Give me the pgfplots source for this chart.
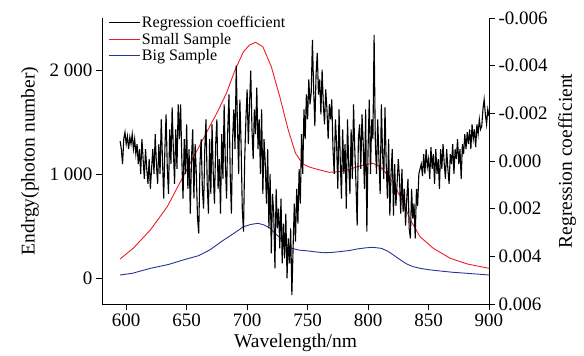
\documentclass[border=0pt]{standalone}
\usepackage{fontspec}
\setmainfont{Liberation Serif}
\usepackage{pgfplots}
\usepackage{pgfplotstable}
\pgfplotsset{compat=1.18}
\definecolor{myred}{RGB}{236,30,36}
\definecolor{myblue}{RGB}{40,52,150}

\pgfplotstableread{
x y
595 183
606 288
620 462
634 686
647 974
661 1279
675 1587
683 1779
690 2000
697 2176
702 2240
707 2266
713 2224
720 2032
727 1744
734 1423
740 1200
746 1096
752 1065
758 1045
768 1016
778 1025
785 1045
791 1070
798 1090
804 1103
810 1070
815 1006
821 910
828 750
835 558
843 397
854 285
868 189
882 135
900 93
}\smalltab

\pgfplotstableread{
x y
595 29
605 45
620 93
635 130
647 173
660 215
669 269
680 360
689 429
697 493
703 515
709 526
714 510
719 478
724 420
729 365
733 320
737 285
743 268
749 262
756 252
763 243
770 246
778 255
785 265
791 279
798 290
804 295
811 285
816 260
821 221
826 180
832 135
837 110
843 93
850 80
860 67
870 55
882 45
900 29
}\bigtab

\pgfplotstableread{
x y
595 -0.83e-3
596 -0.50e-3
597 0.13e-3
598 -0.92e-3
599 -1.21e-3
600 -0.71e-3
601 -1.04e-3
602 -0.50e-3
603 -1.00e-3
604 -0.71e-3
605 -1.13e-3
606 -0.50e-3
607 -0.92e-3
608 -0.29e-3
609 -0.71e-3
610 0.13e-3
611 -0.50e-3
612 0.54e-3
613 -0.92e-3
614 -0.08e-3
615 0.75e-3
616 -0.50e-3
617 0.33e-3
618 0.96e-3
619 -0.08e-3
620 1.17e-3
621 0.33e-3
622 -0.50e-3
623 0.54e-3
624 -1.13e-3
625 0.13e-3
626 0.96e-3
627 -0.71e-3
628 0.54e-3
629 -1.75e-3
630 -0.08e-3
631 1.58e-3
632 -0.50e-3
633 -1.96e-3
634 0.33e-3
635 1.38e-3
636 -1.33e-3
637 0.13e-3
638 -2.25e-3
639 -0.50e-3
640 0.96e-3
641 -1.33e-3
642 0.33e-3
643 -2.38e-3
644 -0.92e-3
645 -2.38e-3
646 -0.08e-3
647 1.58e-3
648 -0.92e-3
649 0.54e-3
650 -1.54e-3
651 1.17e-3
652 -0.50e-3
653 2.21e-3
654 -0.08e-3
655 -1.33e-3
656 1.58e-3
657 -0.71e-3
658 0.54e-3
659 2.42e-3
660 3.04e-3
661 0.13e-3
662 -0.92e-3
663 1.17e-3
664 2.00e-3
665 -0.50e-3
666 -1.75e-3
667 0.96e-3
668 2.21e-3
669 -0.92e-3
670 1.38e-3
671 -1.54e-3
672 0.54e-3
673 1.79e-3
674 -0.71e-3
675 -1.75e-3
676 1.17e-3
677 -0.08e-3
678 2.21e-3
679 -1.13e-3
680 0.75e-3
681 -2.38e-3
682 0.13e-3
683 1.58e-3
684 -1.33e-3
685 -2.79e-3
686 0.54e-3
687 2.21e-3
688 -0.92e-3
689 -2.17e-3
690 -0.50e-3
691 -4.00e-3
692 -1.54e-3
693 0.54e-3
694 -2.58e-3
695 -0.71e-3
696 2.00e-3
697 2.96e-3
698 -0.08e-3
699 -1.75e-3
700 -3.00e-3
701 -0.71e-3
702 -2.38e-3
703 -3.79e-3
704 -1.33e-3
705 -0.08e-3
706 -2.17e-3
707 -1.13e-3
708 -3.08e-3
709 -0.50e-3
710 -1.75e-3
711 0.54e-3
712 -2.17e-3
713 1.38e-3
714 -0.92e-3
715 0.13e-3
716 1.79e-3
717 -0.50e-3
718 2.83e-3
719 0.54e-3
720 3.88e-3
721 1.38e-3
722 2.21e-3
723 4.50e-3
724 1.17e-3
725 2.83e-3
726 2.00e-3
727 3.67e-3
728 1.58e-3
729 4.29e-3
730 2.63e-3
731 4.08e-3
732 2.21e-3
733 4.92e-3
734 3.25e-3
735 4.29e-3
736 2.83e-3
737 5.63e-3
738 3.67e-3
739 1.79e-3
740 3.38e-3
741 1.17e-3
742 2.63e-3
743 0.33e-3
744 1.79e-3
745 -1.13e-3
746 0.54e-3
747 -2.17e-3
748 -0.92e-3
749 -2.79e-3
750 -1.75e-3
751 -3.42e-3
752 -2.38e-3
753 -2.88e-3
754 -5.08e-3
755 -3.00e-3
756 -1.46e-3
757 -3.63e-3
758 -4.54e-3
759 -2.79e-3
760 -3.42e-3
761 -1.96e-3
762 -3.83e-3
763 -2.38e-3
764 -1.54e-3
765 -3.00e-3
766 -2.17e-3
767 -0.92e-3
768 -2.38e-3
769 -1.75e-3
770 -2.58e-3
771 -0.50e-3
772 0.54e-3
773 -1.75e-3
774 -0.71e-3
775 1.17e-3
776 -2.17e-3
777 -0.08e-3
778 1.58e-3
779 -1.33e-3
780 0.54e-3
781 -0.71e-3
782 2.00e-3
783 -1.75e-3
784 0.13e-3
785 1.38e-3
786 -1.33e-3
787 0.75e-3
788 -2.38e-3
789 -0.50e-3
790 0.96e-3
791 2.71e-3
792 -0.92e-3
793 -1.54e-3
794 0.33e-3
795 -1.96e-3
796 -0.71e-3
797 1.17e-3
798 -2.17e-3
799 2.96e-3
800 -0.50e-3
801 -2.58e-3
802 0.54e-3
803 -1.75e-3
804 -0.92e-3
805 -5.29e-3
806 -0.79e-3
807 0.54e-3
808 -1.75e-3
809 -0.08e-3
810 1.38e-3
811 -2.38e-3
812 -0.29e-3
813 0.75e-3
814 -2.25e-3
815 0.13e-3
816 1.58e-3
817 -0.92e-3
818 2.29e-3
819 0.54e-3
820 -0.50e-3
821 2.29e-3
822 0.13e-3
823 1.88e-3
824 0.96e-3
825 -0.08e-3
826 0.75e-3
827 2.21e-3
828 0.33e-3
829 2.13e-3
830 1.17e-3
831 2.71e-3
832 1.58e-3
833 0.75e-3
834 2.83e-3
835 3.25e-3
836 1.17e-3
837 2.42e-3
838 1.79e-3
839 3.25e-3
840 1.17e-3
841 1.88e-3
842 0.54e-3
843 0.33e-3
844 0.13e-3
845 0.63e-3
846 -0.29e-3
847 0.54e-3
848 -0.50e-3
849 0.25e-3
850 -0.08e-3
851 0.75e-3
852 -0.58e-3
853 0.33e-3
854 -0.29e-3
855 0.96e-3
856 -0.50e-3
857 0.54e-3
858 -0.08e-3
859 1.17e-3
860 -0.50e-3
861 0.33e-3
862 -0.71e-3
863 0.13e-3
864 0.75e-3
865 -0.50e-3
866 0.33e-3
867 0.96e-3
868 -0.29e-3
869 0.13e-3
870 -0.71e-3
871 0.54e-3
872 -0.50e-3
873 -0.08e-3
874 -0.92e-3
875 0.13e-3
876 -0.50e-3
877 0.75e-3
878 -0.71e-3
879 -0.29e-3
880 -1.13e-3
881 -0.50e-3
882 -1.21e-3
883 -0.71e-3
884 -1.33e-3
885 -0.50e-3
886 -1.54e-3
887 -0.92e-3
888 -1.33e-3
889 -0.58e-3
890 -1.54e-3
891 -1.13e-3
892 -1.75e-3
893 -1.33e-3
894 -1.46e-3
895 -2.17e-3
896 -2.58e-3
897 -1.96e-3
898 -1.54e-3
899 -2.17e-3
900 -1.88e-3
}\regtab

\begin{document}
\begin{tikzpicture}
\pgfplotsset{
  common/.style={
    scale only axis, width=387pt, height=286pt,
    xmin=580, xmax=900,
    axis line style={-, line width=0.9pt},
    tick align=outside,
    tick style={line width=0.9pt, black},
    major tick length=6pt,
    /pgf/number format/assume math mode=true,
    ticklabel style={font=\fontsize{19}{21}\selectfont},
  }
}
\begin{axis}[common,
  ymin=-250, ymax=2500,
  axis x line*=bottom, axis y line*=left,
  xtick={600,650,700,750,800,850,900},
  ytick={0,1000,2000},
  /pgf/number format/1000 sep={\ },
  xlabel={Wavelength/nm},
  ylabel={Endrgy(photon number)},
  xlabel style={at={(axis description cs:0.5,-0.136)}, anchor=center, font=\fontsize{19.5}{22}\selectfont},
  ylabel style={at={(axis description cs:-0.186,0.5)}, anchor=center, font=\fontsize{19.5}{22}\selectfont},
]
\addplot[myred, line width=0.9pt] table[x=x,y=y] {\smalltab};
\addplot[myblue, line width=0.9pt] table[x=x,y=y] {\bigtab};
\end{axis}
\begin{axis}[common,
  ymin=-0.006, ymax=0.006, y dir=reverse,
  axis x line=none, axis y line*=right,
  ytick={-0.006,-0.004,-0.002,0,0.002,0.004,0.006},
  scaled y ticks=false,
  /pgf/number format/fixed,
  /pgf/number format/fixed zerofill,
  /pgf/number format/precision=3,
  ylabel={Regression coefficient},
  ylabel style={at={(axis description cs:1.2016,0.5)}, anchor=center, font=\fontsize{19.5}{22}\selectfont},
  legend style={at={(axis description cs:0.016,1.012)}, anchor=north west,
    draw=none, fill=none, inner sep=0pt, row sep=1pt,
    font=\fontsize{16}{17}\selectfont, nodes={inner sep=1.5pt}},
  legend cell align=left,
  legend image code/.code={\draw[#1] (0pt,0pt) -- (31pt,0pt);},
]
\addplot[black, line width=1.1pt] table[x=x,y=y] {\regtab};
\addlegendentry{Regression coefficient}
\addlegendimage{myred, line width=0.9pt}
\addlegendentry{Small Sample}
\addlegendimage{myblue, line width=0.9pt}
\addlegendentry{Big Sample}
\end{axis}
\pgfresetboundingbox
\path[use as bounding box] (-102pt,-52pt) rectangle (482pt,304pt);
\end{tikzpicture}
\end{document}
